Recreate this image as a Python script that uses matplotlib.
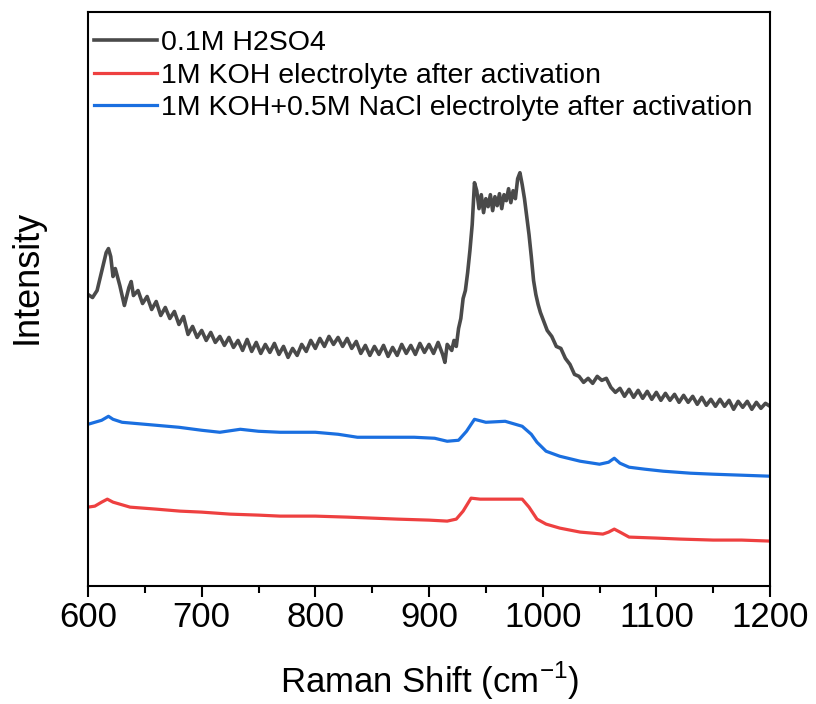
import matplotlib
matplotlib.use("Agg")
import matplotlib.pyplot as plt
from matplotlib.ticker import MultipleLocator

plt.rcParams['font.family'] = ['Liberation Sans', 'DejaVu Sans']
plt.rcParams['mathtext.fontset'] = 'custom'
plt.rcParams['mathtext.rm'] = 'Liberation Sans'

# Black: 0.1M H2SO4 (arbitrary intensity units)
x_h2so4 = [600, 604, 608, 612, 616, 618, 620, 622, 624, 628, 632, 636, 638, 640, 644, 648,
           652, 656, 660, 664, 668, 672, 676, 680, 684, 688, 692, 696, 700, 704, 708, 712,
           716, 720, 724, 728, 732, 736, 740, 744, 748, 752, 756, 760, 764, 768, 772, 776,
           780, 784, 788, 792, 796, 800, 804, 808, 812, 816, 820, 824, 828, 832, 836, 840,
           844, 848, 852, 856, 860, 864, 868, 872, 876, 880, 884, 888, 892, 896, 900, 904,
           908, 912, 914, 916, 920, 922, 924, 926, 928, 930, 932, 934, 936, 938, 940, 942,
           944, 946, 948, 950, 952, 954, 956, 958, 960, 962, 964, 966, 968, 970, 972, 974,
           976, 978, 980, 982, 984, 986, 988, 990, 992, 994, 996, 998, 1000, 1004, 1008,
           1012, 1016, 1020, 1024, 1028, 1032, 1036, 1040, 1044, 1048, 1052, 1056, 1060,
           1064, 1068, 1072, 1076, 1080, 1084, 1088, 1092, 1096, 1100, 1104, 1108, 1112,
           1116, 1120, 1124, 1128, 1132, 1136, 1140, 1144, 1148, 1152, 1156, 1160, 1164,
           1168, 1172, 1176, 1180, 1184, 1188, 1192, 1196, 1200]
y_h2so4 = [292, 289, 296, 315, 334, 338, 330, 310, 318, 301, 281, 299, 305, 291, 296, 283,
           290, 277, 285, 271, 279, 268, 275, 262, 270, 252, 260, 249, 256, 246, 254, 244,
           250, 241, 249, 239, 246, 236, 247, 235, 244, 233, 242, 234, 243, 232, 240, 229,
           238, 231, 242, 235, 246, 238, 248, 240, 250, 242, 249, 240, 248, 238, 245, 233,
           241, 231, 240, 232, 241, 230, 239, 231, 242, 233, 241, 232, 243, 234, 242, 233,
           244, 232, 224, 242, 236, 246, 240, 258, 268, 288, 296, 314, 336, 362, 404, 396,
           378, 392, 374, 388, 380, 392, 376, 390, 381, 393, 378, 392, 386, 398, 384, 396,
           388, 408, 414, 402, 388, 370, 352, 330, 306, 292, 282, 274, 268, 256, 250,
           240, 238, 228, 222, 212, 210, 204, 208, 203, 210, 206, 208, 199,
           194, 198, 190, 197, 189, 196, 188, 195, 187, 194, 186, 193, 186,
           192, 184, 191, 184, 190, 182, 189, 181, 187, 180, 187, 180, 186,
           177, 185, 179, 185, 177, 184, 178, 183, 180]

# Red: 1M KOH electrolyte after activation
x_koh = [600, 606, 612, 617, 622, 637, 660, 681, 700, 725, 750, 769, 800, 828, 850, 872,
         900, 916, 924, 930, 937, 945, 959, 970, 982, 988, 995, 1003, 1015, 1033, 1053,
         1058, 1063, 1068, 1076, 1100, 1121, 1150, 1175, 1200]
y_koh = [79, 80, 84, 87, 84, 79, 77, 75, 74, 72, 71, 70, 70, 69, 68, 67,
         66, 65, 67, 75, 88, 87, 87, 87, 87, 79, 67, 62, 58, 54, 52,
         54, 57, 54, 49, 48, 47, 46, 46, 45]

# Blue: 1M KOH+0.5M NaCl electrolyte after activation
x_nacl = [600, 606, 612, 618, 622, 630, 640, 660, 680, 700, 716, 734, 750, 769, 800, 820,
          837, 860, 887, 905, 916, 926, 933, 940, 950, 967, 982, 990, 995, 1003, 1015,
          1033, 1050, 1058, 1063, 1068, 1076, 1090, 1106, 1130, 1150, 1175, 1200]
y_nacl = [162, 164, 166, 170, 167, 164, 163, 161, 159, 156, 154, 157, 155, 154, 154, 152,
          149, 149, 149, 148, 145, 146, 155, 167, 164, 165, 160, 152, 144, 135, 130,
          125, 122, 124, 128, 123, 119, 117, 115, 113, 112, 111, 110]

labels = ["0.1M H2SO4", "1M KOH electrolyte after activation",
          "1M KOH+0.5M NaCl electrolyte after activation"]
colors = ["#4a4a4a", "#ee4040", "#1a6fe0"]

fig = plt.figure(figsize=(8.16, 7.04), dpi=100)
ax = fig.add_axes([88/816, (704-586)/704, (770-88)/816, (586-12)/704])

ax.plot(x_h2so4, y_h2so4, color=colors[0], lw=2.6, label=labels[0])
ax.plot(x_koh, y_koh, color=colors[1], lw=2.3, label=labels[1])
ax.plot(x_nacl, y_nacl, color=colors[2], lw=2.3, label=labels[2])

ax.set_xlim(600, 1200)
ax.set_ylim(0, 575)
ax.xaxis.set_major_locator(MultipleLocator(100))
ax.xaxis.set_minor_locator(MultipleLocator(50))
ax.set_yticks([])
ax.tick_params(axis='x', which='major', direction='out', length=8, width=1.5, labelsize=25, pad=3)
ax.tick_params(axis='x', which='minor', direction='out', length=5, width=1.5)
for s in ax.spines.values():
    s.set_linewidth(1.5)

ax.set_xlabel(r"Raman Shift (cm$^{\mathrm{-1}}$)", fontsize=25)
ax.xaxis.set_label_coords(0.501, -0.128)
ax.set_ylabel("Intensity", fontsize=26)
ax.yaxis.set_label_coords(-0.063, 0.538)

leg = ax.legend(loc='upper left', frameon=False, fontsize=20.5, handlelength=2.2,
                handletextpad=0.15, labelspacing=0.22, borderaxespad=0.1,
                bbox_to_anchor=(-0.012, 0.993))

fig.savefig("out.png", dpi=100)
